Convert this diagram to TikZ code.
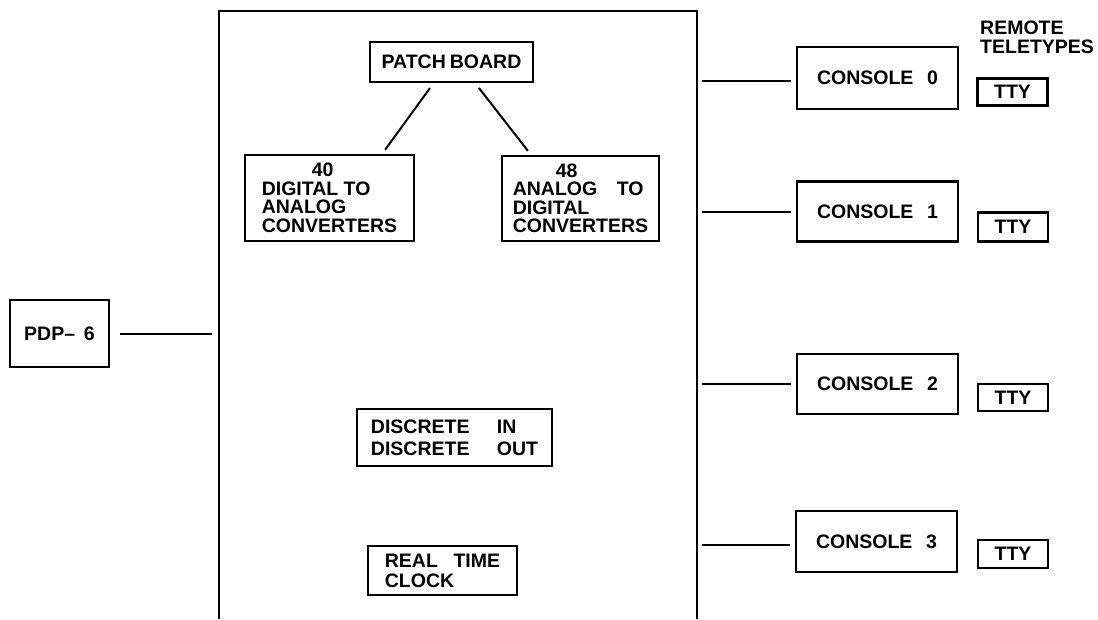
\documentclass[tikz,border=0pt]{standalone}
\usepackage{fontspec}
\setmainfont{Liberation Sans}
\begin{document}
\begin{tikzpicture}[x=1pt,y=-1pt,
  lbl/.style={font=\bfseries\fontsize{19.5}{18.5}\selectfont, inner sep=0pt, align=left},
  unit/.style={lbl, draw, line width=2.4pt},
  frame/.style={line width=2.6pt},
  conn/.style={line width=2pt}]

% page
\useasboundingbox[fill=white] (0,0) rectangle (1098,619);

% interface cabinet, open at the bottom
\coordinate (busLb) at (219,619);
\coordinate (busL)  at (219,11);
\coordinate (busR)  at (697,11);
\coordinate (busRb) at (697,619);
\draw[frame] (busLb) -- (busL) -- (busR) -- (busRb);

% inside the cabinet
\node[unit, minimum width=163pt, minimum height=40pt] (patch) at (451.5,62) {PATCH\kern4pt BOARD};
\node[unit, minimum width=169pt, minimum height=86pt] (dac) at (329.5,198)
  {\hspace*{50pt}40\\DIGITAL TO\\ANALOG\\CONVERTERS};
\node[unit, minimum width=157pt, minimum height=85pt] (adc) at (580.5,198.5)
  {\hspace*{43pt}48\\ANALOG\hspace{1em}TO\\DIGITAL\\CONVERTERS};
\node[unit, minimum width=195pt, minimum height=57pt,
      font=\bfseries\fontsize{19.5}{22}\selectfont] (discrete) at (454.5,437.5)
  {DISCRETE\hspace{1.4em}IN\\DISCRETE\hspace{1.4em}OUT};
\node[unit, minimum width=149pt, minimum height=49pt,
      font=\bfseries\fontsize{19.5}{20}\selectfont] (clock) at (442.5,570.5)
  {REAL\hspace{0.8em}TIME\\CLOCK};

\draw[conn, shorten <=6pt, shorten >=5pt] ([xshift=-18pt]patch.south) -- ([xshift=52.7pt]dac.north);
\draw[conn, shorten <=6pt, shorten >=5pt] ([xshift=23.7pt]patch.south) -- ([xshift=-49.5pt]adc.north);

% computer
\node[unit, minimum width=99pt, minimum height=67pt] (pdp) at (59.5,333.5) {PDP--\hspace{0.45em}6};
\draw[conn, shorten <=10pt, shorten >=7pt] (pdp.east) -- (pdp.east -| busL);

% consoles and their teletypes
\node[unit, minimum width=161pt, minimum height=62pt] (con0) at (877.5,78)    {CONSOLE\hspace{0.7em}0};
\node[unit, minimum width=161pt, minimum height=60pt] (con1) at (877.5,211.5) {CONSOLE\hspace{0.7em}1};
\node[unit, minimum width=161pt, minimum height=60pt] (con2) at (877.5,384)   {CONSOLE\hspace{0.7em}2};
\node[unit, minimum width=161pt, minimum height=61pt] (con3) at (876.5,541.5) {CONSOLE\hspace{0.7em}3};

\draw[conn, shorten <=5pt, shorten >=5pt] ([yshift=-3pt]con0.west) -- ([yshift=-3pt]con0.west -| busR);
\draw[conn, shorten <=5pt, shorten >=5pt] (con1.west) -- (con1.west -| busR);
\draw[conn, shorten <=5pt, shorten >=5pt] (con2.west) -- (con2.west -| busR);
\draw[conn, shorten <=5pt, shorten >=5pt] ([yshift=-3.5pt]con3.west) -- ([yshift=-3.5pt]con3.west -| busR);

\node[unit, minimum width=70pt, minimum height=27pt] (tty0) at (1012.5,92)  {TTY};
\node[unit, minimum width=70pt, minimum height=29pt] (tty1) at (1013,227)   {TTY};
\node[unit, minimum width=70pt, minimum height=27pt] (tty2) at (1013,397.5) {TTY};
\node[unit, minimum width=70pt, minimum height=28pt] (tty3) at (1013,554)   {TTY};

\node[lbl, anchor=north west] (remote) at (980,21) {REMOTE\\TELETYPES};
\end{tikzpicture}
\end{document}
